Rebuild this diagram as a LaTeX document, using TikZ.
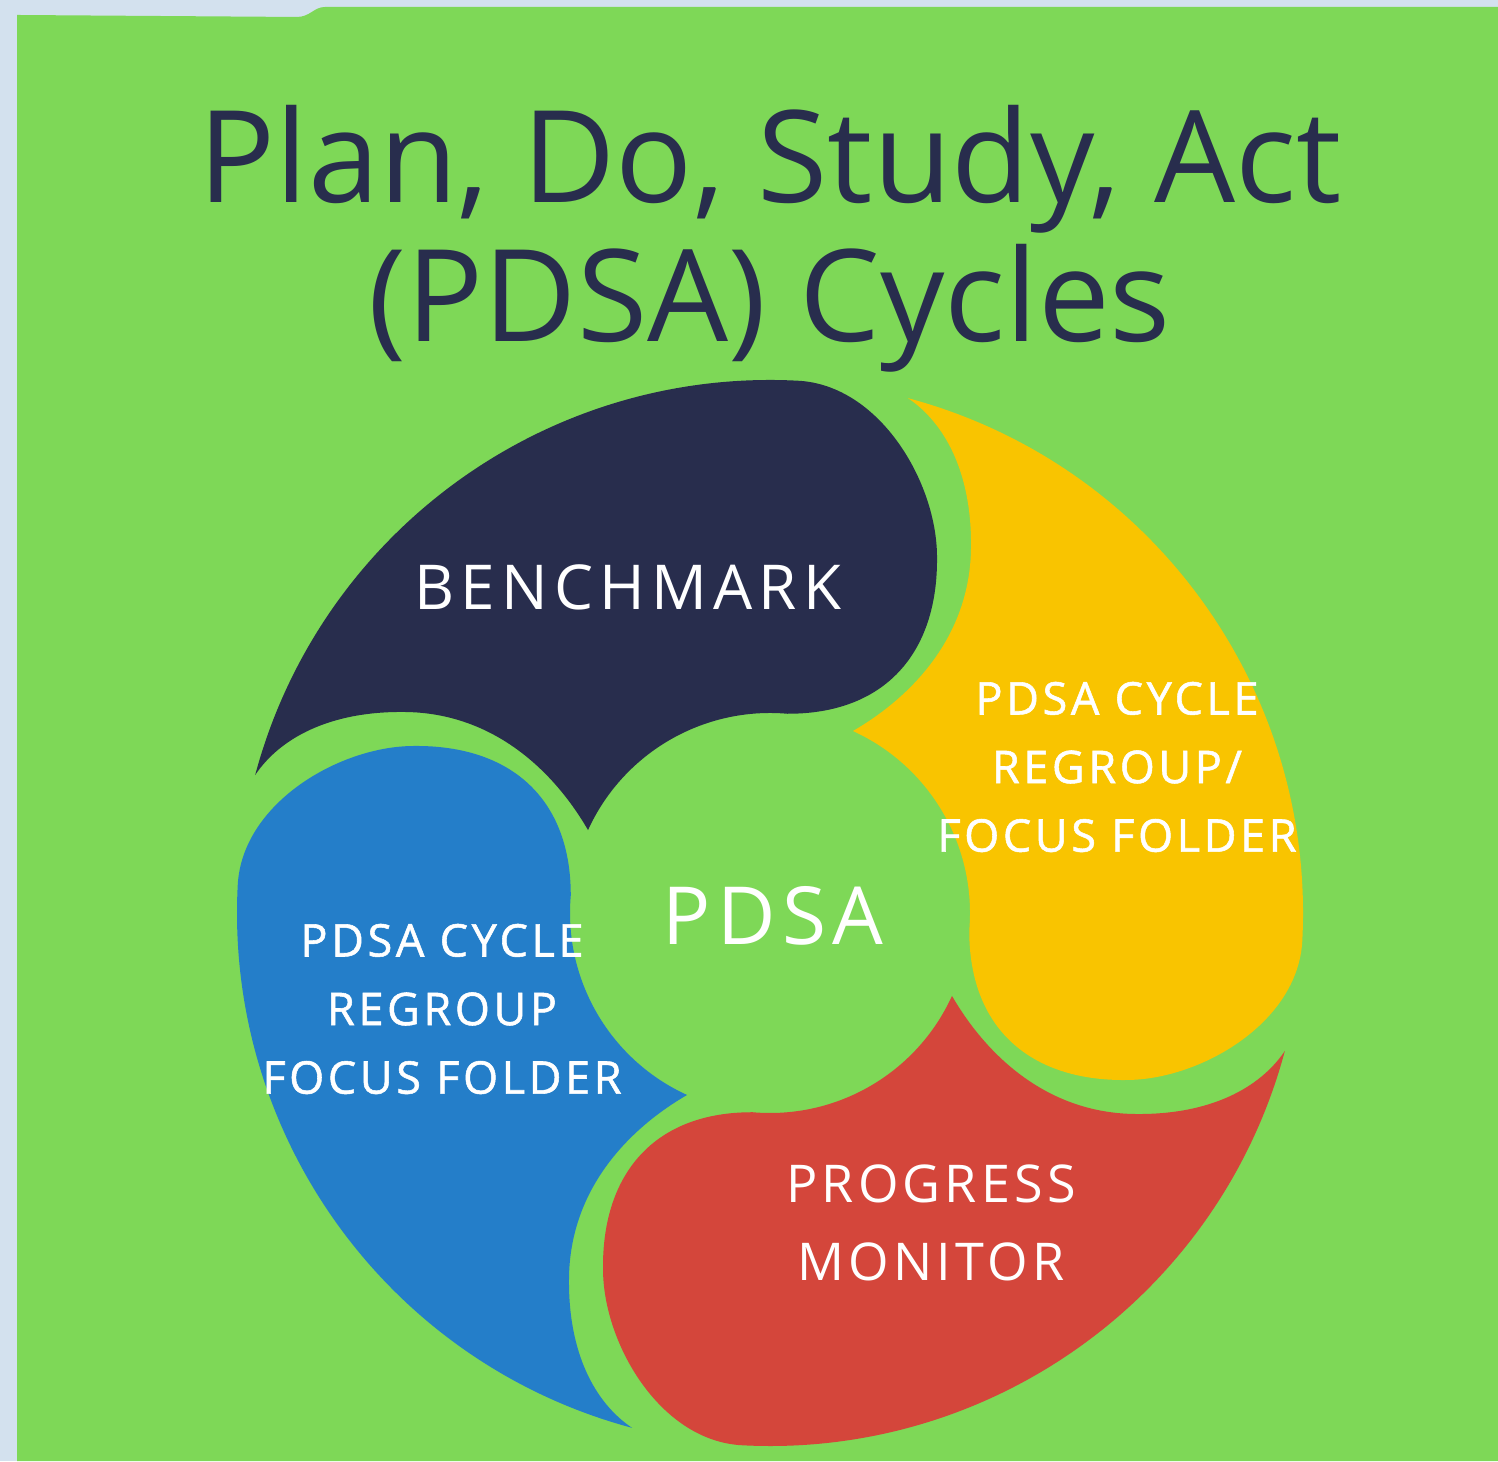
\documentclass[tikz,border=0pt]{standalone}
\usepackage{fontspec}
\setmainfont{Open Sans}
\newfontfamily\spacedfont[LetterSpace=8]{Open Sans}
\newfontfamily\boldspacedfont[LetterSpace=8, FakeBold=1.2]{Open Sans}
\usepackage{tikz}
\definecolor{framegray}{HTML}{D3E1EE}
\definecolor{pdsagreen}{HTML}{7ED857}
\definecolor{pdsanavy}{HTML}{282D4D}
\definecolor{pdsayellow}{HTML}{F9C400}
\definecolor{pdsared}{HTML}{D4463B}
\definecolor{pdsablue}{HTML}{247EC9}

\begin{document}
\begin{tikzpicture}[x=0.01cm, y=0.01cm,
    heading/.style={text=pdsanavy, align=center, inner sep=0pt, font=\fontsize{36.4}{39.5}\selectfont},
    petaltext/.style={text=white, align=center, inner sep=0pt}]
    % 1. Khung xam nhat va nen xanh la
    \useasboundingbox (0,0) rectangle (1498,1461);
    \fill[framegray] (0,0) rectangle (1498,1461);
    \fill[pdsagreen] (17,0) -- (1498,0) -- (1498,1454) -- (325,1454)
        .. controls (314,1454) and (310,1444) .. (297,1444) -- (17,1446) -- cycle;

    % 2. Bon canh hinh giot nuoc, cung mot hinh quay tung goc vuong
    \foreach \ang/\col in {0/pdsanavy, -90/pdsayellow, 180/pdsared, 90/pdsablue}
        \fill[\col, shift={(770,548)}, rotate=\ang]
            (165:533) arc[start angle=165, end angle=87, radius=533]
            .. controls (110,528) and (167,430) .. (167,356)
            .. controls (168,260) and (115,199) .. (85:200)
            arc[start angle=85, end angle=155.5, radius=200]
            .. controls (-215,140) and (-275,200) .. (-365,201)
            .. controls (-440,202) and (-490,175) .. (165:533) -- cycle;

    % 3. Tieu de
    \node[heading] (title) at (770,1222) {Plan, Do, Study, Act\\(PDSA) Cycles};

    % 4. Chu tren cac canh va o giua
    \node[petaltext, anchor=base, font={\spacedfont\addfontfeature{LetterSpace=10}\fontsize{17.6}{21}\selectfont}] (bench) at (628,851) {BENCHMARK};
    \node[petaltext, font={\boldspacedfont\fontsize{12.8}{19.5}\selectfont}] (regroupright) at (1117,694) {PDSA CYCLE\\REGROUP/\\FOCUS FOLDER};
    \node[petaltext, font={\boldspacedfont\fontsize{12.8}{19.5}\selectfont}] (regroupleft) at (442,452) {PDSA CYCLE\\REGROUP\\FOCUS FOLDER};
    \node[petaltext, font={\spacedfont\fontsize{14.8}{22.2}\selectfont}] (progress) at (931,238) {PROGRESS\\MONITOR};
    \node[petaltext, anchor=base, font={\spacedfont\fontsize{22.8}{26}\selectfont}] (hub) at (773,516) {PDSA};
\end{tikzpicture}
\end{document}
